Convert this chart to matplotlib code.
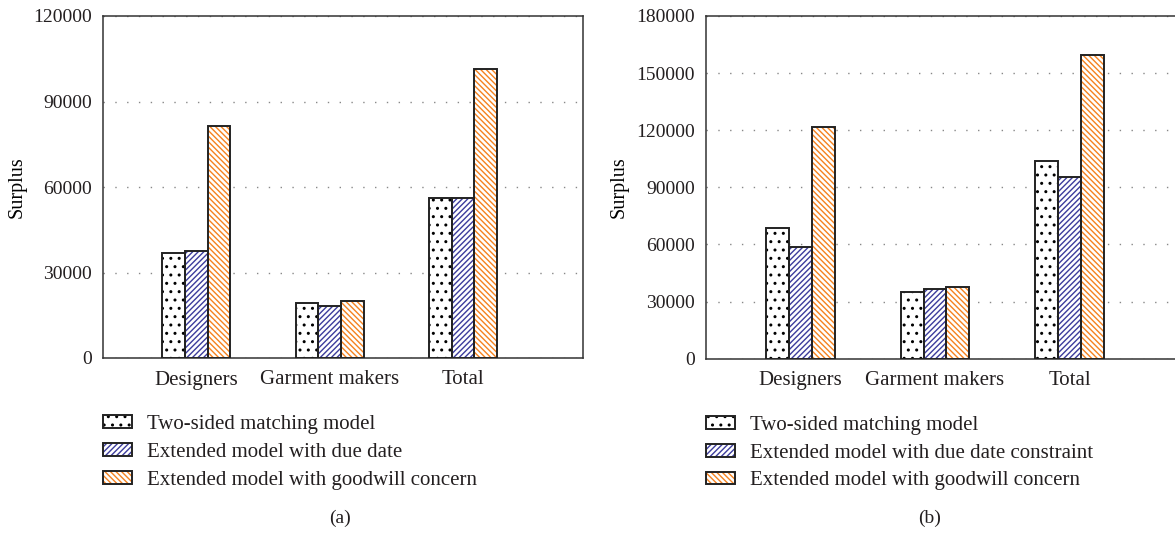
import numpy as np
import matplotlib
matplotlib.use("Agg")
import matplotlib.pyplot as plt

plt.rcParams['font.family'] = ['Liberation Serif', 'DejaVu Serif']
plt.rcParams['hatch.linewidth'] = 1.0
plt.rcParams['text.color'] = '#231f20'

# datos
categorias = ['Designers', 'Garment makers', 'Total']
series_a = ['Two-sided matching model',
            'Extended model with due date',
            'Extended model with goodwill concern']
series_b = ['Two-sided matching model',
            'Extended model with due date constraint',
            'Extended model with goodwill concern']
vals_a = [[37000, 19200, 56000],
          [37600, 18200, 56000],
          [81500, 20000, 101500]]
vals_b = [[68500, 35200, 104000],
          [58500, 36500, 95200],
          [121800, 37500, 159700]]
yticks_a = [0, 30000, 60000, 90000, 120000]
yticks_b = [0, 30000, 60000, 90000, 120000, 150000, 180000]

colores = ['black', '#3c3c9c', '#f5821f']
tramas = ['..', '//////', '\\\\\\\\\\\\']

fig = plt.figure(figsize=(11.75, 5.39), dpi=100)
ax1 = fig.add_axes([103/1175, 1-358/539, 480/1175, 342/539])
ax2 = fig.add_axes([706/1175, 1-358.7/539, 485/1175, 342.7/539])


def panel(ax, vals, nombres, yticks, letra, xletra):
    x = np.arange(len(categorias))
    w = 0.17
    handles = []
    for i, v in enumerate(vals):
        pos = x + (i - 1) * w
        b1 = ax.bar(pos, v, w, color='white', edgecolor=colores[i],
                    hatch=tramas[i], linewidth=0, zorder=3)
        b2 = ax.bar(pos, v, w, fill=False, edgecolor='#222222',
                    linewidth=1.4, zorder=4)
        handles.append((b1[0], b2[0]))
    ax.set_xlim(-0.7, 2.9)
    ax.set_ylim(yticks[0], yticks[-1])
    ax.set_yticks(yticks)
    ax.set_xticks(x)
    ax.set_xticklabels(categorias)
    ax.tick_params(length=0, labelsize=14, colors='#231f20')
    ax.tick_params(axis='y', pad=8)
    ax.tick_params(axis='x', pad=9, labelsize=15)
    ax.grid(axis='y', color='#888888', linewidth=1.0, linestyle=(0, (1, 7.5)), zorder=1)
    for s in ax.spines.values():
        s.set_color('#333333')
        s.set_linewidth(1.1)
    ax.set_ylabel('Surplus', fontsize=14.5)
    ax.yaxis.set_label_coords(-0.16, 0.5)
    ax.legend(handles, nombres, loc='upper left', bbox_to_anchor=(0.0, -0.167),
              frameon=False, fontsize=15, handlelength=1.4, handleheight=0.55,
              handletextpad=0.7, labelspacing=0.42, borderaxespad=0, borderpad=0)
    fig.text(xletra, 0.039, letra, ha='center', va='center', fontsize=14)


panel(ax1, vals_a, series_a, yticks_a, '(a)', 340/1175)
panel(ax2, vals_b, series_b, yticks_b, '(b)', 930/1175)

fig.savefig('out.png', dpi=100)
